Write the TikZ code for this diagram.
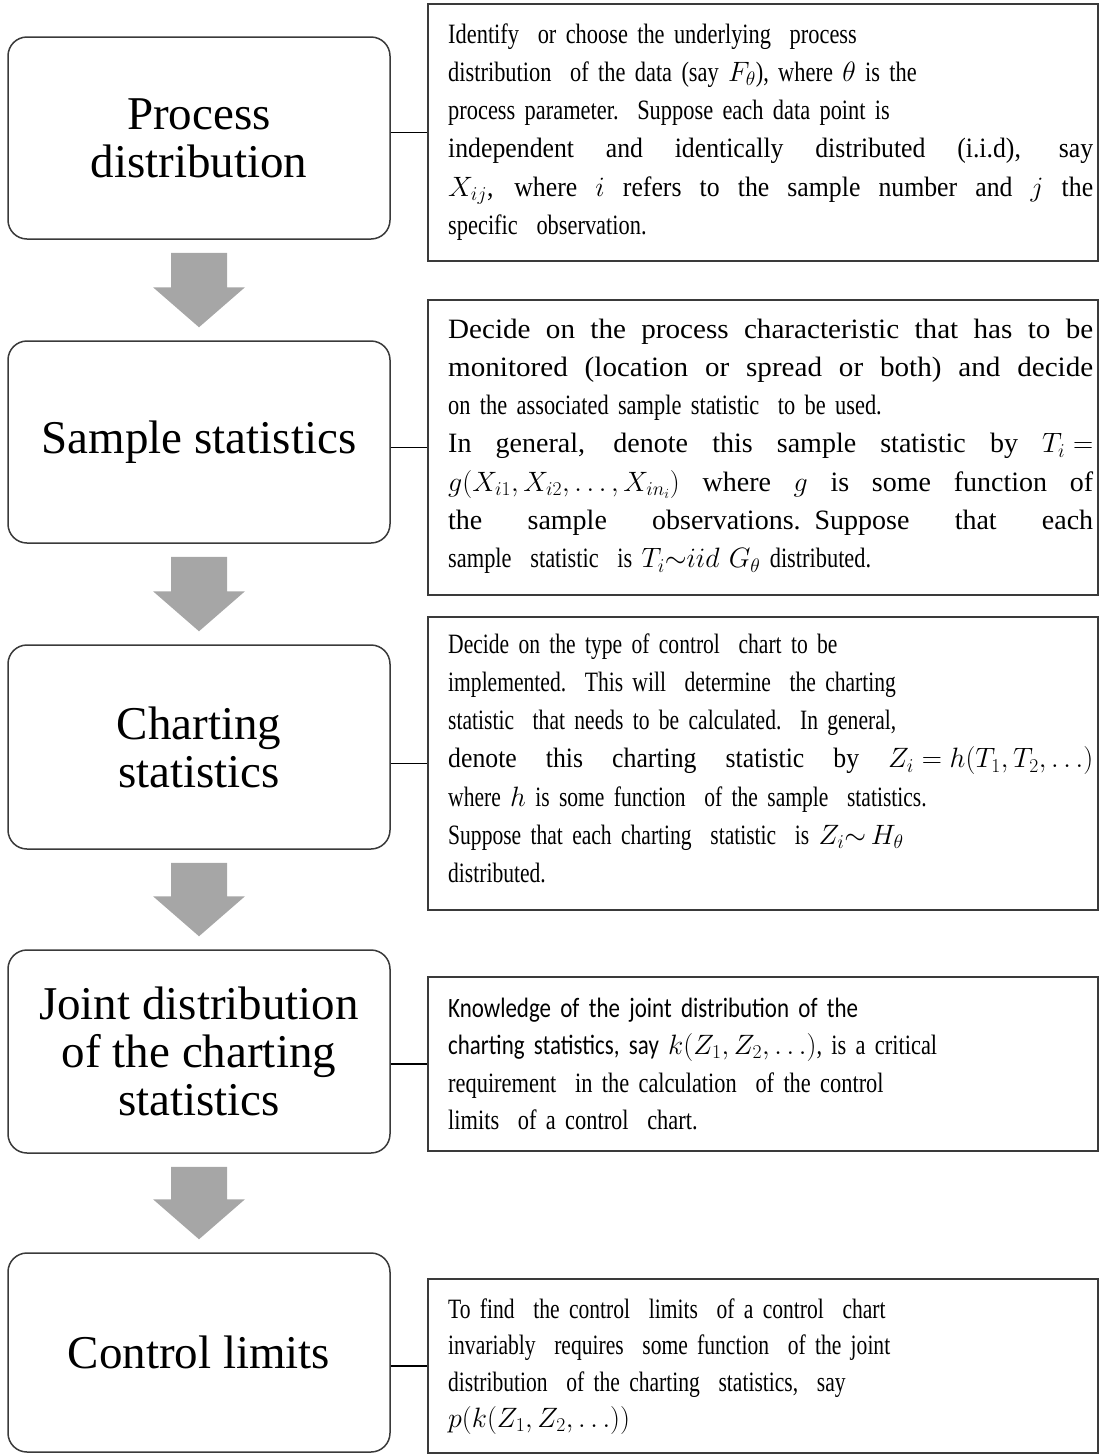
\documentclass[tikz,border=0pt]{standalone}
\usepackage{fix-cm}
\usepackage{fontspec}
\setmainfont{Liberation Serif}
\newfontfamily\tc[FakeStretch=0.8]{Liberation Serif}
\newfontfamily\tcc[FakeStretch=0.77]{Liberation Serif}
\newfontfamily\tn[FakeStretch=0.92]{Liberation Serif}
\newfontfamily\tnn[FakeStretch=1.0]{Liberation Serif}
\newfontfamily\tw[FakeStretch=1.04]{Liberation Serif}
\newfontfamily\carlitofont[FakeStretch=0.82]{Carlito}
\usetikzlibrary{calc}
\definecolor{arrowgray}{HTML}{A6A6A6}
\definecolor{edgegray}{HTML}{3A3A3A}
\newcommand{\fl}[1]{\leavevmode\hbox to 645pt{\spaceskip=0.25em plus 1fil\relax #1}}
\begin{document}
\begin{tikzpicture}[x=1pt,y=-1pt,
  lbox/.style={draw=edgegray, line width=1.5pt, rounded corners=19pt, fill=white,
    minimum width=382pt, align=center, inner sep=0pt,
    font=\fontsize{47pt}{48pt}\selectfont},
  rbox/.style={draw=edgegray, line width=1.6pt, minimum width=670pt, inner sep=0pt},
  txt/.style={anchor=base west, inner sep=0pt, text width=645pt, align=left,
    font=\tc\fontsize{28pt}{38.3pt}\selectfont},
  link/.style={draw=black, line width=1.4pt},
  blockarrow/.style={fill=arrowgray, draw=none}]
\useasboundingbox (0,0) rectangle (1099,1454);
% left boxes
\node[lbox, minimum height=202pt] (l1) at (199,138) {Process\\distribution};
\node[lbox, minimum height=202pt] (l2) at (199,442) {Sample statistics};
\node[lbox, minimum height=204pt] (l3) at (199,747) {Charting\\statistics};
\node[lbox, minimum height=203pt] (l4) at (199,1051.5) {Joint distribution\\of the charting\\statistics};
\node[lbox, minimum height=199pt] (l5) at (199,1352.5) {Control limits};
% right boxes
\node[rbox, minimum height=257pt] (r1) at (763,132.5) {};
\node[rbox, minimum height=295pt] (r2) at (763,447.5) {};
\node[rbox, minimum height=293pt] (r3) at (763,763.5) {};
\node[rbox, minimum height=174pt] (r4) at (763,1064) {};
\node[rbox, minimum height=174pt] (r5) at (763,1366) {};
% texts
\node[txt] (t1) at (448,43) {Identify\ \ or choose the underlying\ \ process\\
distribution\ \ of the data (say $F_\theta$), where $\theta$ is the\\
process parameter.\ \ Suppose each data point is\\
\fl{\tn independent and identically distributed (i.i.d), say}\\
\fl{\tn $X_{ij}$, where $i$ refers to the sample number and $j$ the}\\
specific\ \ observation.};
\node[txt] (t2) at (448,338) {\fl{\tw Decide on the process characteristic that has to be}\\
\fl{\tw monitored (location or spread or both) and decide}\\
on the associated sample statistic\ \ to be used.\\
\fl{\tnn In general, denote this sample statistic by ${T_i =}$}\\
\fl{\tnn $g(X_{i1},X_{i2},\dots,X_{in_i})$ where $g$ is some function of}\\
\fl{\tnn the sample observations. Suppose that each}\\
sample\ \ statistic\ \ is $T_i{\sim}iid\ G_\theta$ distributed.};
\node[txt, font=\tcc\fontsize{28pt}{38.3pt}\selectfont] (t3) at (448,653) {Decide on the type of control\ \ chart to be\\
implemented.\ \ This will\ \ determine\ \ the charting\\
statistic\ \ that needs to be calculated.\ \ In general,\\
\fl{\tn denote this charting statistic by ${Z_i = h(T_1,T_2,\dots)}$}\\
where $h$ is some function\ \ of the sample\ \ statistics.\\
Suppose that each charting\ \ statistic\ \ is $Z_i{\sim}\,H_\theta$\\
distributed.};
\node[txt, font=\tc\fontsize{28pt}{37.5pt}\selectfont] (t4) at (448,1017) {{\carlitofont Knowledge of the joint distribution of the}\\
{\carlitofont charting statistics, say} $k(Z_1,Z_2,\dots)$, is a critical\\
requirement\ \ in the calculation\ \ of the control\\
limits\ \ of a control\ \ chart.};
\node[txt, font=\tcc\fontsize{28pt}{36.5pt}\selectfont] (t5) at (448,1318) {To find\ \ the control\ \ limits\ \ of a control\ \ chart\\
invariably\ \ requires\ \ some function\ \ of the joint\\
distribution\ \ of the charting\ \ statistics,\ \ say\\
$p(k(Z_1,Z_2,\dots))$};
% connectors
\foreach \i in {1,...,5}{
  \draw[link] (l\i.east |- r\i.west) -- (r\i.west);
}
% block arrows
\foreach \a/\b in {l1/l2,l2/l3,l3/l4,l4/l5}{
  \fill[blockarrow] ($(\a.south)+(-28,13)$) -- ($(\a.south)+(28,13)$)
    -- ($(\b.north)+(28,-53)$) -- ($(\b.north)+(46,-53)$)
    -- ($(\b.north)+(0,-13)$) -- ($(\b.north)+(-46,-53)$)
    -- ($(\b.north)+(-28,-53)$) -- cycle;
}
\end{tikzpicture}
\end{document}
